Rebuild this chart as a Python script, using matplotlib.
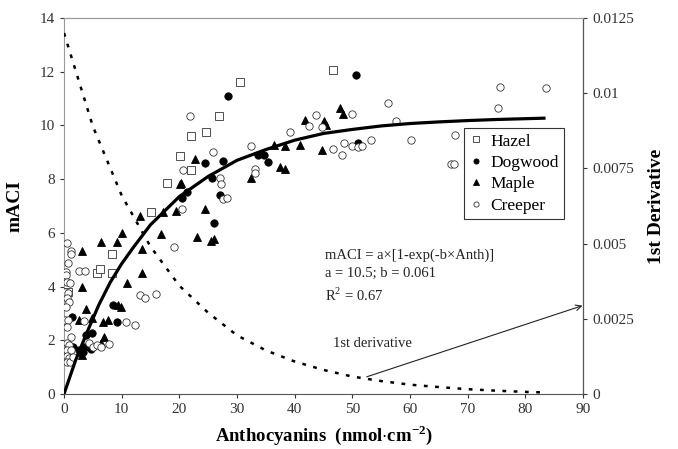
import matplotlib
matplotlib.use("Agg")
import matplotlib.pyplot as plt

plt.rcParams["font.family"] = ["Liberation Serif", "DejaVu Serif"]
plt.rcParams["mathtext.fontset"] = "custom"
plt.rcParams["mathtext.rm"] = "Liberation Serif"
plt.rcParams["mathtext.bf"] = "Liberation Serif:bold"

# --- data ---
hazel_x = [0.75, 5.8, 6.2, 8.4, 8.4, 15.0, 17.9, 20.2, 22.0, 22.1, 24.6, 26.8, 30.5, 46.7]
hazel_y = [3.81, 4.52, 4.64, 4.52, 5.20, 6.79, 7.87, 8.87, 8.34, 9.60, 9.77, 10.36, 11.63, 12.06]

dogwood_x = [1.33, 1.6, 2.6, 2.9, 3.35, 3.6, 3.9, 4.6, 4.8, 8.55, 9.2, 20.4, 21.3, 24.4,
             25.7, 26.0, 27.0, 27.5, 28.4, 33.7, 34.6, 35.3, 50.6, 50.9]
dogwood_y = [2.88, 1.76, 1.65, 1.51, 1.57, 1.76, 2.20, 1.67, 2.28, 3.31, 2.67, 7.29, 7.53, 8.61,
             8.03, 6.38, 7.41, 8.67, 11.10, 8.90, 8.90, 8.63, 11.88, 9.33]

maple_x = [3.07, 3.07, 3.9, 2.65, 4.8, 6.7, 7.6, 7.0, 6.4, 3.07, 2.8, 6.5, 9.2, 10.1, 9.4,
           9.9, 11.0, 13.6, 13.6, 13.1, 16.8, 17.2, 19.4, 20.1, 20.3, 22.8, 23.0, 24.4,
           25.5, 26.0, 32.4, 36.5, 37.5, 38.4, 38.4, 40.9, 41.8, 44.8, 45.1, 45.5, 47.9, 48.3]
maple_y = [5.32, 3.97, 3.16, 2.75, 2.82, 2.67, 2.75, 2.13, 1.91, 1.45, 1.60, 5.67, 5.67, 5.98, 3.31,
           3.25, 4.14, 4.52, 5.39, 6.64, 5.95, 6.79, 6.83, 7.80, 7.87, 8.75, 5.86, 6.88,
           5.70, 5.76, 8.05, 9.27, 8.46, 8.37, 9.23, 9.27, 10.20, 9.08, 10.17, 10.00, 10.63, 10.42]

creeper_x = [0.5, 1.3, 1.2, 0.75, 0.35, 0.4, 0.6, 1.0, 0.2, 0.75, 0.5, 0.9, 0.3, 0.2, 0.75,
             0.5, 1.2, 0.5, 0.9, 0.6, 1.3, 0.5, 0.9, 0.6, 1.0, 1.6, 2.6, 3.6, 3.5, 4.3,
             5.0, 5.7, 6.4, 7.86, 10.7, 12.3, 13.2, 14.0, 16.0, 19.1, 20.5, 20.7, 21.8,
             25.8, 27.0, 27.3, 27.6, 28.3, 32.5, 33.2, 33.2, 39.2, 42.5, 43.7, 44.7, 46.7,
             48.2, 48.6, 50.0, 50.0, 51.0, 51.6, 53.2, 56.2, 57.5, 60.2, 67.1, 67.6, 67.8,
             75.2, 75.6, 83.6]
creeper_y = [5.63, 5.32, 5.21, 4.89, 4.55, 4.43, 4.18, 4.14, 3.81, 3.75, 3.56, 3.44, 3.25, 2.75, 2.75,
             2.50, 2.13, 1.89, 1.82, 1.64, 1.64, 1.41, 1.33, 1.20, 1.20, 1.39, 4.59, 4.59, 2.72, 1.90,
             1.75, 1.82, 1.76, 1.86, 2.68, 2.57, 3.69, 3.57, 3.72, 5.46, 6.88, 8.34, 10.36,
             9.02, 8.03, 7.82, 7.25, 7.28, 9.23, 8.37, 8.22, 9.74, 9.98, 10.39, 9.95, 9.11,
             8.90, 9.36, 10.42, 9.23, 9.21, 9.23, 9.46, 10.82, 10.18, 9.46, 8.56, 8.56, 9.64,
             10.63, 11.44, 11.40]

# fitted curve mACI = a*[1-exp(-b*Anth)]
fit_x = [0, 2, 4, 6, 8, 10, 12, 15, 20, 25, 30, 35, 40, 45, 50, 55, 60, 65, 70, 75, 83.5]
fit_y = [0, 1.25, 2.3, 3.3, 4.15, 4.85, 5.45, 6.3, 7.35, 8.1, 8.7, 9.1, 9.45, 9.7, 9.85,
         9.98, 10.07, 10.13, 10.18, 10.22, 10.27]

# first derivative (right axis)
deriv_x = [0, 5, 10, 15, 20, 25, 30, 35, 40, 45, 50, 55, 60, 65, 70, 75, 80, 83.5]
deriv_y = [0.0120, 0.0089, 0.0066, 0.0049, 0.0036, 0.0027, 0.00195, 0.00145, 0.00108,
           0.0008, 0.00058, 0.00043, 0.00031, 0.00023, 0.00016, 0.00011, 0.00007, 0.00005]

x_ticks = [0, 10, 20, 30, 40, 50, 60, 70, 80, 90]
y_ticks = [0, 2, 4, 6, 8, 10, 12, 14]
y2_ticks = [0, 0.0025, 0.005, 0.0075, 0.01, 0.0125]
y2_labels = ["0", "0.0025", "0.005", "0.0075", "0.01", "0.0125"]

fig = plt.figure(figsize=(6.78, 4.49), dpi=100)
ax = fig.add_axes([0.0944, 0.1225, 0.7655, 0.8375])

ms = 5.3
ax.plot(hazel_x, hazel_y, ls="none", marker="s", ms=ms, mfc="white", mec="#333333",
        mew=0.6, label="Hazel", zorder=3)
ax.plot(dogwood_x, dogwood_y, ls="none", marker="o", ms=ms, mfc="black", mec="black",
        mew=0.6, label="Dogwood", zorder=3)
ax.plot(maple_x, maple_y, ls="none", marker="^", ms=ms, mfc="black", mec="black",
        mew=0.6, label="Maple", zorder=3)
ax.plot(creeper_x, creeper_y, ls="none", marker="o", ms=ms, mfc="white", mec="#333333",
        mew=0.6, label="Creeper", zorder=3)

ax.plot(fit_x, fit_y, color="black", lw=2.3, zorder=4, solid_capstyle="butt")

ax.set_xlim(0, 90)
ax.set_ylim(0, 14)
ax.set_xticks(x_ticks)
ax.set_yticks(y_ticks)
ax.tick_params(direction="out", length=3, width=0.8, labelsize=11, colors="#333333")
ax.set_xlabel(r"Anthocyanins  (nmol$\cdot$cm$^{\mathbf{-2}}$)", fontsize=13.5,
              fontweight="bold", labelpad=5)
ax.set_ylabel("mACI", fontsize=14, fontweight="bold", labelpad=12)

ax.spines["left"].set_color("#999999")
ax.spines["top"].set_color("#999999")
ax.spines["bottom"].set_color("#555555")

ax.text(45.3, 5.18, "mACI = a×[1-exp(-b×Anth)]", fontsize=10.5, va="center", color="#222222")
ax.text(45.3, 4.49, "a = 10.5; b = 0.061", fontsize=10.5, va="center", color="#222222")
ax.text(45.3, 3.69, "R$^2$ = 0.67", fontsize=10.5, va="center", color="#222222")
ax.text(46.7, 1.89, "1st derivative", fontsize=10.5, va="center", color="#222222")
ax.annotate("", xy=(89.9, 3.29), xytext=(52.5, 0.64),
            arrowprops=dict(arrowstyle="->", lw=0.8, color="#222222",
                            shrinkA=0, shrinkB=0))

leg = ax.legend(loc="upper left", bbox_to_anchor=(0.771, 0.707), borderaxespad=0,
                fontsize=12.5, markerscale=0.7, handlelength=0.8, handletextpad=0.4,
                labelspacing=0.3, borderpad=0.3, fancybox=False, framealpha=1)
leg.get_frame().set_edgecolor("#333333")
leg.get_frame().set_linewidth(0.8)

ax2 = ax.twinx()
ax2.plot(deriv_x, deriv_y, color="black", lw=1.8, ls=(0, (1.5, 3)))
ax2.set_ylim(0, 0.0125)
ax2.set_yticks(y2_ticks)
ax2.set_yticklabels(y2_labels)
ax2.tick_params(direction="out", length=3, width=0.8, labelsize=11, colors="#333333")
ax2.set_ylabel("1st Derivative", fontsize=14, fontweight="bold", labelpad=10)
ax2.spines["right"].set_color("#555555")
ax2.spines["left"].set_visible(False)
ax2.spines["top"].set_color("#999999")
ax2.spines["bottom"].set_visible(False)

fig.savefig("out.png", dpi=100)
